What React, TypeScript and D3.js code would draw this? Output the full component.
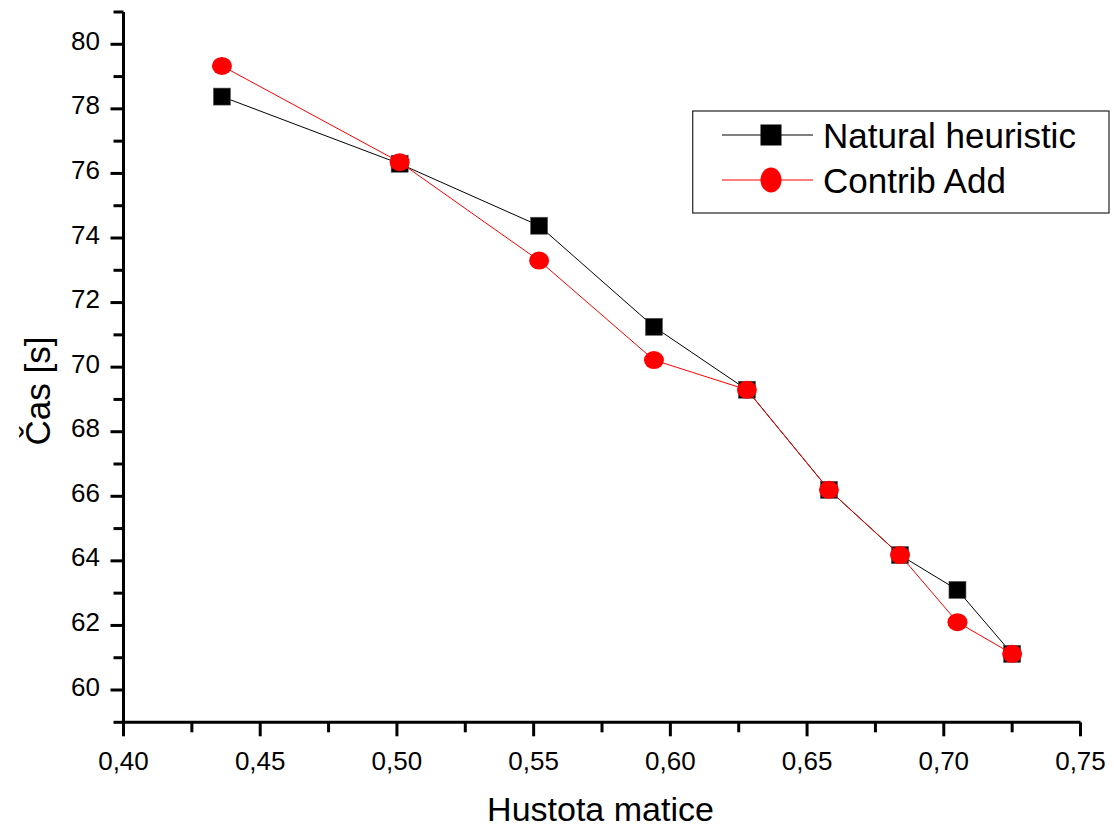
import * as d3 from 'd3';
import * as React from 'react';

// hustota matice (x) a cas v sekundach
const density = [0.436, 0.501, 0.552, 0.594, 0.628, 0.658, 0.684, 0.705, 0.725];
const naturalHeuristic = [78.38, 76.3, 74.38, 71.25, 69.3, 66.2, 64.18, 63.1, 61.12];
const contribAdd = [79.33, 76.35, 73.3, 70.22, 69.3, 66.2, 64.18, 62.1, 61.12];

const xMajorTicks = [0.40, 0.45, 0.50, 0.55, 0.60, 0.65, 0.70, 0.75];
const yMajorTicks = [60, 62, 64, 66, 68, 70, 72, 74, 76, 78, 80];

const seriesNames = ['Natural heuristic', 'Contrib Add'];
const xTitle = 'Hustota matice';
const yTitle = 'Čas [s]';

const W = 1114;
const H = 829;
const FONT = '"Liberation Sans", Arial, sans-serif';

const czFormat = d3.formatLocale({
  decimal: ',',
  thousands: ' ',
  grouping: [3],
  currency: ['', ' Kč'],
}).format('.2f');

const App = () => {
  const x = d3.scaleLinear().domain([0.40, 0.75]).range([123.5, 1080.5]);
  const y = d3.scaleLinear().domain([59, 81]).range([722.3, 12]);

  const xMinor = d3.range(0.425, 0.75, 0.05);
  const yMinor = d3.range(59, 82, 2);

  const line = d3.line<number>()
    .x((d, i) => x(density[i]))
    .y((d) => y(d));

  const sq = 17;
  const legendX = 722;
  const legendRows = [135, 180];

  return (
    <svg
      width={W}
      height={H}
      style={{ position: 'absolute', left: 0, top: 0, background: '#fff' }}
      fontFamily={FONT}
    >
      <rect x={0} y={0} width={W} height={H} fill='#fff' />

      {/* black series */}
      <path d={line(naturalHeuristic)} fill='none' stroke='#000' strokeWidth={1} />
      {naturalHeuristic.map((v, i) => (
        <rect
          key={'n' + i}
          x={x(density[i]) - sq / 2}
          y={y(v) - sq / 2}
          width={sq}
          height={sq}
          fill='#000'
          stroke='#555'
          strokeWidth={0.6}
        />
      ))}

      {/* red series */}
      <path d={line(contribAdd)} fill='none' stroke='#f00' strokeWidth={1} />
      {contribAdd.map((v, i) => (
        <ellipse
          key={'c' + i}
          cx={x(density[i])}
          cy={y(v)}
          rx={10}
          ry={9}
          fill='#f00'
        />
      ))}

      {/* y axis */}
      <line x1={x(0.40)} x2={x(0.40)} y1={y(81)} y2={y(59)} stroke='#000' strokeWidth={3} />
      {yMinor.map((t) => (
        <line key={'ym' + t} x1={x(0.40) - 10} x2={x(0.40)} y1={y(t)} y2={y(t)}
          stroke='#000' strokeWidth={3} />
      ))}
      {yMajorTicks.map((t) => (
        <g key={'y' + t}>
          <line x1={x(0.40) - 13} x2={x(0.40)} y1={y(t)} y2={y(t)} stroke='#000' strokeWidth={3} />
          <text x={100} y={y(t) + 5.5} textAnchor='end' fontSize={26} fill='#000'>{t}</text>
        </g>
      ))}

      {/* x axis */}
      <line x1={x(0.40)} x2={x(0.75)} y1={y(59)} y2={y(59)} stroke='#000' strokeWidth={3} />
      {xMinor.map((t) => (
        <line key={'xm' + t} x1={x(t)} x2={x(t)} y1={y(59)} y2={y(59) + 10}
          stroke='#000' strokeWidth={3} />
      ))}
      {xMajorTicks.map((t) => (
        <g key={'x' + t}>
          <line x1={x(t)} x2={x(t)} y1={y(59)} y2={y(59) + 14} stroke='#000' strokeWidth={3} />
          <text x={x(t)} y={770} textAnchor='middle' fontSize={26} fill='#000'>{czFormat(t)}</text>
        </g>
      ))}

      {/* titles */}
      <text x={600.5} y={821} textAnchor='middle' fontSize={34} fill='#000'>{xTitle}</text>
      <text
        transform={`translate(50, 391) rotate(-90)`}
        textAnchor='middle'
        fontSize={35}
        fill='#000'
      >
        {yTitle}
      </text>

      {/* legend */}
      <rect x={692.7} y={111} width={416.3} height={102} fill='#fff' stroke='#333' strokeWidth={1.3} />
      <line x1={legendX} x2={813} y1={legendRows[0]} y2={legendRows[0]} stroke='#000' strokeWidth={1} />
      <rect x={771 - 10.5} y={legendRows[0] - 10.5} width={21} height={21} fill='#000' />
      <line x1={legendX} x2={813} y1={legendRows[1]} y2={legendRows[1]} stroke='#f00' strokeWidth={1} />
      <ellipse cx={771} cy={legendRows[1]} rx={10.5} ry={12.5} fill='#f00' />
      {seriesNames.map((s, i) => (
        <text key={s} x={823} y={legendRows[i] + 13} fontSize={35} fill='#000'>{s}</text>
      ))}
    </svg>
  );
};

export default App;
